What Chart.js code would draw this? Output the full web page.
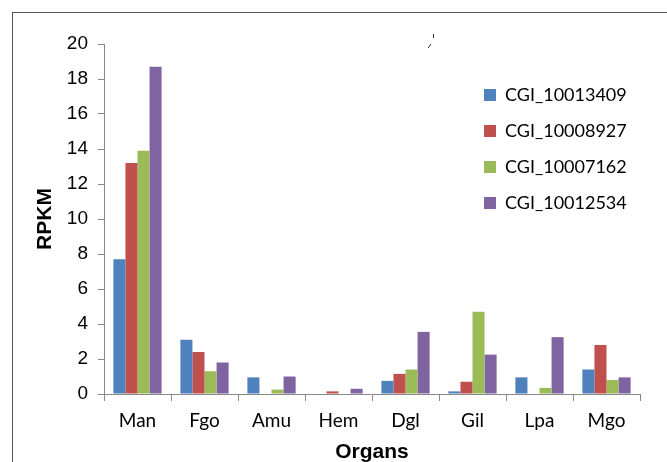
<!DOCTYPE html>
<html>
<head>
<meta charset="utf-8">
<script src="https://cdn.jsdelivr.net/npm/chart.js@4/dist/chart.umd.min.js"></script>
<style>
  html, body { margin: 0; padding: 0; background: #fff; }
  #wrap { position: relative; width: 667px; height: 462px; overflow: hidden; }
  #frame { position: absolute; left: 12px; top: 12px; right: -2px; bottom: -2px;
    border-left: 1px solid #555; border-top: 1px solid #555; }
  #myChart { position: absolute; left: 0; top: 0; }
</style>
</head>
<body>
<div id="wrap">
  <div id="frame"></div>
  <canvas id="myChart" width="667" height="462"></canvas>
</div>
<script>
// RPKM per organ for four genes

const organs = ["Man", "Fgo", "Amu", "Hem", "Dgl", "Gil", "Lpa", "Mgo"];
const genes = ["CGI_10013409", "CGI_10008927", "CGI_10007162", "CGI_10012534"];

const cgi10013409 = [7.7, 3.1, 0.95, 0, 0.75, 0.15, 0.95, 1.4];
const cgi10008927 = [13.2, 2.4, 0, 0.15, 1.15, 0.7, 0, 2.8];
const cgi10007162 = [13.9, 1.3, 0.25, 0, 1.4, 4.7, 0.35, 0.8];
const cgi10012534 = [18.7, 1.8, 1.0, 0.3, 3.55, 2.25, 3.25, 0.95];

const yTicks = [0, 2, 4, 6, 8, 10, 12, 14, 16, 18, 20];

const colors = ["#4F81BD", "#C0504D", "#9BBB59", "#8064A2"];
const series = [cgi10013409, cgi10008927, cgi10007162, cgi10012534];

const axisGrey = "#888888";

// legend drawn inside the plot, like the original
const boxLegend = {
  id: "boxLegend",
  afterDraw(chart) {
    const c = chart.ctx;
    c.save();
    c.font = "18px Lato, 'Liberation Sans', sans-serif";
    c.textBaseline = "middle";
    chart.data.datasets.forEach((ds, i) => {
      const y = 95 + i * 36;
      c.fillStyle = ds.backgroundColor;
      c.fillRect(484, y - 6, 12, 12);
      c.fillStyle = "#000";
      c.fillText(ds.label, 505, y);
    });
    // little stray marks near the top of the figure
    c.strokeStyle = "#333";
    c.lineWidth = 1;
    c.beginPath();
    c.moveTo(433.5, 34); c.lineTo(433.5, 38);
    c.moveTo(431, 44); c.lineTo(428, 48);
    c.stroke();
    c.restore();
  },
};

const chartData = {
  labels: organs,
  datasets: [],
};

for (let i = 0; i < series.length; i++) {
  chartData.datasets.push({
    label: genes[i],
    data: series[i],
    backgroundColor: colors[i],
    borderWidth: 0,
    barPercentage: 1.0,
    categoryPercentage: 0.72,
  });
}

new Chart(document.getElementById("myChart"), {
  type: "bar",
  data: chartData,
  plugins: [boxLegend],
  options: {
    responsive: false,
    animation: false,
    layout: { padding: { left: 0, right: 27, top: 44, bottom: 0 } },
    plugins: {
      legend: { display: false },
      tooltip: { enabled: false },
    },
    scales: {
      x: {
        afterFit: (s) => { s.height = 68; },
        grid: {
          drawOnChartArea: false,
          offset: true,
          color: axisGrey,
          tickLength: 7,
        },
        border: { color: axisGrey, width: 1 },
        ticks: {
          color: "#000",
          padding: 8,
          font: { family: "Lato, 'Liberation Sans', sans-serif", size: 19 },
        },
        title: {
          display: true,
          text: "Organs",
          color: "#000",
          padding: { top: 0, bottom: -3 },
          font: { family: "'Liberation Sans', Arial, sans-serif", size: 21, weight: "bold" },
        },
      },
      y: {
        min: 0,
        max: 20,
        afterFit: (s) => { s.width = 104; },
        afterBuildTicks: (s) => { s.ticks = yTicks.map((v) => ({ value: v })); },
        grid: {
          drawOnChartArea: false,
          color: axisGrey,
          tickLength: 6,
        },
        border: { color: axisGrey, width: 1 },
        ticks: {
          color: "#000",
          padding: 10,
          font: { family: "'Liberation Sans', Arial, sans-serif", size: 19 },
        },
        title: {
          display: true,
          text: "RPKM",
          color: "#000",
          padding: { top: 33, bottom: 0 },
          font: { family: "'Liberation Sans', Arial, sans-serif", size: 21, weight: "bold" },
        },
      },
    },
  },
});
</script>
</body>
</html>
